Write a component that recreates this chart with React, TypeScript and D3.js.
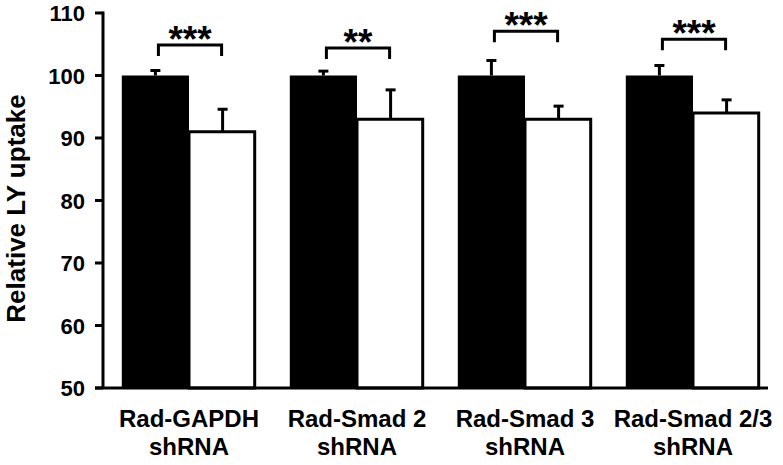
import React from "react";
import * as d3 from "d3";

const categories = ["Rad-GAPDH", "Rad-Smad 2", "Rad-Smad 3", "Rad-Smad 2/3"];
const subLabel = "shRNA";
const controlValues = [100, 100, 100, 100];
const controlErrors = [0.8, 0.7, 2.4, 1.6];
const knockdownValues = [91, 93, 93, 94];
const knockdownErrors = [3.6, 4.7, 2.1, 2.1];
const bracketLevels = [104.9, 104.4, 107.1, 105.8];
const stars = ["***", "**", "***", "***"];
const yTicks = [50, 60, 70, 80, 90, 100, 110];
const yTitle = "Relative LY uptake";

const W = 783;
const H = 465;
const FONT = "'Liberation Sans', Arial, sans-serif";

export default function App() {
  const y = d3.scaleLinear().domain([50, 110]).range([388, 13]);
  const x0 = d3
    .scaleBand<string>()
    .domain(categories)
    .range([105, 777])
    .paddingInner(0.2)
    .paddingOuter(0.1);
  const x1 = d3
    .scaleBand<string>()
    .domain(["control", "knockdown"])
    .range([0, x0.bandwidth()])
    .padding(0);
  const bw = x1.bandwidth();
  const axisX = 103;
  const sw = 3;
  const capW = 10;

  return (
    <svg
      width={W}
      height={H}
      style={{ position: "absolute", left: 0, top: 0, background: "#fff" }}
      fontFamily={FONT}
    >
      <rect x={0} y={0} width={W} height={H} fill="#fff" />
      {categories.map((c, i) => {
        const gx = x0(c)!;
        const cx = gx + x1("control")!;
        const kx = gx + x1("knockdown")!;
        const cMid = cx + bw / 2;
        const kMid = kx + bw / 2;
        const cTop = y(controlValues[i]);
        const kTop = y(knockdownValues[i]);
        const cErr = y(controlValues[i] + controlErrors[i]);
        const kErr = y(knockdownValues[i] + knockdownErrors[i]);
        const by = y(bracketLevels[i]);
        const bl = cMid + 3;
        const br = kMid - 1;
        const labelX = gx + x0.bandwidth() / 2;
        return (
          <g key={c}>
            <line x1={cMid} x2={cMid} y1={cTop} y2={cErr} stroke="#000" strokeWidth={sw} />
            <line x1={cMid - capW / 2} x2={cMid + capW / 2} y1={cErr} y2={cErr} stroke="#000" strokeWidth={sw} />
            <line x1={kMid} x2={kMid} y1={kTop} y2={kErr} stroke="#000" strokeWidth={sw} />
            <line x1={kMid - capW / 2} x2={kMid + capW / 2} y1={kErr} y2={kErr} stroke="#000" strokeWidth={sw} />
            <rect x={cx} y={cTop} width={bw} height={y(50) - cTop} fill="#000" />
            <rect
              x={kx}
              y={kTop}
              width={bw - sw / 2}
              height={y(50) - kTop}
              fill="#fff"
              stroke="#000"
              strokeWidth={sw}
            />
            <path
              d={`M${bl},${by + 11}V${by}H${br}V${by + 11}`}
              fill="none"
              stroke="#000"
              strokeWidth={sw}
            />
            <text x={(bl + br) / 2} y={by + 7} textAnchor="middle" fontSize={37} fontWeight="bold">
              {stars[i]}
            </text>
            <text x={labelX} y={427} textAnchor="middle" fontSize={24} fontWeight="bold">
              {c}
            </text>
            <text x={labelX} y={455} textAnchor="middle" fontSize={24} fontWeight="bold">
              {subLabel}
            </text>
          </g>
        );
      })}
      <line x1={axisX} x2={axisX} y1={y(110) - 1.5} y2={y(50)} stroke="#000" strokeWidth={sw} />
      <line x1={95} x2={768} y1={y(50)} y2={y(50)} stroke="#000" strokeWidth={sw} />
      {yTicks.map((t) => (
        <g key={t}>
          <line x1={95} x2={axisX} y1={y(t)} y2={y(t)} stroke="#000" strokeWidth={sw} />
          <text x={85} y={y(t) + 8} textAnchor="end" fontSize={22} fontWeight="bold">
            {t}
          </text>
        </g>
      ))}
      <text
        transform={`translate(25,${(y(50) + y(110)) / 2 + 8}) rotate(-90)`}
        textAnchor="middle"
        fontSize={26}
        fontWeight="bold"
      >
        {yTitle}
      </text>
    </svg>
  );
}
